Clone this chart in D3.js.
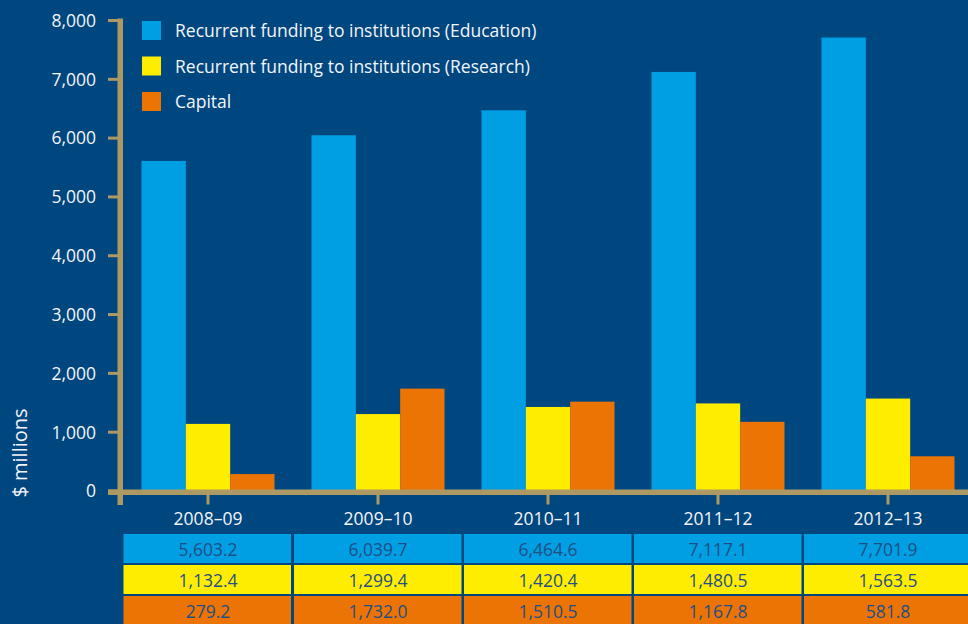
<!DOCTYPE html>
<html><head><meta charset="utf-8">
<script src="https://cdn.jsdelivr.net/npm/d3@7"></script>
<style>
body{margin:0;background:#00467f;overflow:hidden;}
svg{display:block;}
text{font-family:"Open Sans","Noto Sans",sans-serif;}
</style>
</head><body><svg id="c" width="968" height="624"></svg>
<script>
const categories = ["2008–09","2009–10","2010–11","2011–12","2012–13"];
const education = [5603.2, 6039.7, 6464.6, 7117.1, 7701.9];
const research = [1132.4, 1299.4, 1420.4, 1480.5, 1563.5];
const capital = [279.2, 1732.0, 1510.5, 1167.8, 581.8];
const seriesNames = ["Recurrent funding to institutions (Education)", "Recurrent funding to institutions (Research)", "Capital"];
const seriesColors = ["#009fe3", "#ffed00", "#ec7404"];
const yTicks = [0, 1000, 2000, 3000, 4000, 5000, 6000, 7000, 8000];
const yTitle = "$ millions";

const series = [education, research, capital];
const axisColor = "#ad9964";
const textColor = "#f2f5f9";
const tableText = "#1f4f86";
const fs = 17.5;
const svg = d3.select("#c");

const x = d3.scaleBand().domain(categories).range([123, 973]).padding(0);
const xs = d3.scaleBand().domain([0,1,2]).range([18.5, 151.5]).padding(0);
const y = d3.scaleLinear().domain([0, 8000]).range([490.5, 20]);

// bars
series.forEach((vals, si) => {
  svg.append("g").selectAll("rect").data(vals).join("rect")
    .attr("x", (d,i) => x(categories[i]) + xs(si))
    .attr("width", xs.bandwidth())
    .attr("y", d => y(d))
    .attr("height", d => y(0) - y(d))
    .attr("fill", seriesColors[si]);
});

// y axis
const yAxis = d3.axisLeft(y).tickValues(yTicks).tickFormat(d3.format(",")).tickSize(10).tickPadding(12);
const gy = svg.append("g").attr("transform", "translate(118,0)").call(yAxis);
gy.select(".domain").remove();
gy.selectAll(".tick line").attr("stroke", axisColor).attr("stroke-width", 3);
gy.selectAll(".tick text").attr("fill", textColor).attr("font-size", fs).attr("font-family", "Open Sans, Noto Sans, sans-serif").attr("dy", "0.36em");
svg.append("rect").attr("x", 117.5).attr("y", y(8000) - 1.5).attr("width", 5.5).attr("height", 505 - y(8000) + 1.5).attr("fill", axisColor);

// x axis
svg.append("rect").attr("x", 108).attr("y", y(0) - 1).attr("width", 870).attr("height", 5.5).attr("fill", axisColor);
const xAxis = d3.axisBottom(x).tickSize(14).tickPadding(8.5);
const gx = svg.append("g").attr("transform", `translate(0,${y(0)})`).call(xAxis);
gx.select(".domain").remove();
gx.selectAll(".tick line").attr("stroke", axisColor).attr("stroke-width", 3);
gx.selectAll(".tick text").attr("fill", textColor).attr("font-size", fs).attr("font-family", "Open Sans, Noto Sans, sans-serif");

// y title
svg.append("text").attr("transform", "translate(27,453) rotate(-90)")
  .attr("text-anchor", "middle").attr("fill", textColor).attr("font-size", 20).text(yTitle);

// legend
const lg = svg.append("g");
seriesNames.forEach((n, i) => {
  const yy = 21 + i * 35.5;
  lg.append("rect").attr("x", 142).attr("y", yy).attr("width", 19).attr("height", 19).attr("fill", seriesColors[i]);
  lg.append("text").attr("x", 175).attr("y", yy + 16).attr("fill", textColor).attr("font-size", fs).text(n);
});

// table
const rowY = [534, 565, 596];
const fmt = d3.format(",.1f");
series.forEach((vals, si) => {
  const g = svg.append("g");
  g.selectAll("rect").data(vals).join("rect")
    .attr("x", (d,i) => x(categories[i]) + (i === 0 ? 0.5 : 1))
    .attr("width", 167.5)
    .attr("y", rowY[si]).attr("height", 29)
    .attr("fill", seriesColors[si]);
  g.selectAll("text").data(vals).join("text")
    .attr("x", (d,i) => x(categories[i]) + x.bandwidth()/2)
    .attr("y", rowY[si] + 22)
    .attr("text-anchor", "middle").attr("fill", tableText).attr("font-size", fs)
    .text(d => fmt(d));
});
</script></body></html>
